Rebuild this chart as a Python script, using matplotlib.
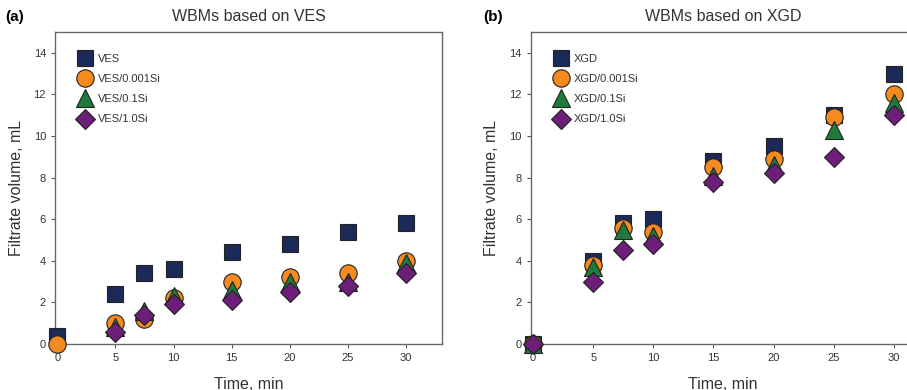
import matplotlib
matplotlib.use("Agg")
import matplotlib.pyplot as plt
import numpy as np

plt.rcParams['font.family'] = ['Liberation Sans', 'DejaVu Sans']

time = [0, 5, 7.5, 10, 15, 20, 25, 30]

ves_labels = ["VES", "VES/0.001Si", "VES/0.1Si", "VES/1.0Si"]
ves = [0.4, 2.4, 3.4, 3.6, 4.4, 4.8, 5.4, 5.8]
ves_0001 = [0.0, 1.0, 1.2, 2.2, 3.0, 3.2, 3.4, 4.0]
ves_01 = [np.nan, 0.8, 1.6, 2.3, 2.6, 3.0, 3.0, 3.9]
ves_10 = [np.nan, 0.6, 1.4, 1.9, 2.1, 2.5, 2.8, 3.4]

xgd_labels = ["XGD", "XGD/0.001Si", "XGD/0.1Si", "XGD/1.0Si"]
xgd = [0.0, 4.0, 5.8, 6.0, 8.8, 9.5, 11.0, 13.0]
xgd_0001 = [0.0, 3.8, 5.6, 5.4, 8.5, 8.9, 10.9, 12.0]
xgd_01 = [0.0, 3.7, 5.5, 5.2, 8.1, 8.6, 10.3, 11.6]
xgd_10 = [0.0, 3.0, 4.5, 4.8, 7.8, 8.2, 9.0, 11.0]

xticks = [0, 5, 10, 15, 20, 25, 30]
yticks = [0, 2, 4, 6, 8, 10, 12, 14]

colors = ["#1c2a5a", "#f58a1f", "#1f7a3c", "#6d1e78"]
markers = ["s", "o", "^", "D"]
msizes = [11.5, 12.5, 12.5, 10.5]

fig = plt.figure(figsize=(9.07, 3.9), dpi=100)
W, H = 907, 390

def make_axes(left_px, right_px):
    return fig.add_axes([left_px / W, (H - 344) / H, (right_px - left_px) / W, (344 - 32) / H])

ax1 = make_axes(55, 442)
ax2 = make_axes(530.7, 931)

panels = [
    (ax1, [ves, ves_0001, ves_01, ves_10], ves_labels, "WBMs based on VES", 0.5),
    (ax2, [xgd, xgd_0001, xgd_01, xgd_10], xgd_labels, "WBMs based on XGD", 0.48),
]

for ax, series, labels, title, tx in panels:
    for s, lab, c, m, ms in zip(series, labels, colors, markers, msizes):
        ax.plot(time, s, linestyle="none", marker=m, markersize=ms, color=c,
                markeredgecolor="#222222", markeredgewidth=0.8, label=lab, clip_on=False, zorder=3)
    ax.set_xlim(-0.2, 33.1)
    ax.set_ylim(0, 15)
    ax.set_xticks(xticks)
    ax.set_yticks(yticks)
    ax.tick_params(direction="out", length=3, width=0.8, colors="#555555",
                   labelcolor="#333333", labelsize=8, top=False, right=False)
    for sp in ax.spines.values():
        sp.set_color("#666666")
        sp.set_linewidth(1.0)
    ax.set_xlabel("Time, min", fontsize=11.5, color="#333333")
    ax.xaxis.set_label_coords(tx, -0.105)
    ax.set_ylabel("Filtrate volume, mL", fontsize=11.5, color="#333333", labelpad=7)
    ax.text(tx, 1.025, title, transform=ax.transAxes, ha="center", va="bottom",
            fontsize=11.5, color="#333333")
    leg = ax.legend(loc="upper left", frameon=False, fontsize=8, handletextpad=0.35,
                    labelspacing=0.92, borderaxespad=0.3, bbox_to_anchor=(0.035, 0.955),
                    handlelength=1.6)
    for t in leg.get_texts():
        t.set_color("#333333")

fig.text(5 / W, 1 - 17 / H, "(a)", fontsize=11, fontweight="bold", va="center", ha="left")
fig.text(483 / W, 1 - 17 / H, "(b)", fontsize=11, fontweight="bold", va="center", ha="left")

fig.savefig("out.png", dpi=100)
